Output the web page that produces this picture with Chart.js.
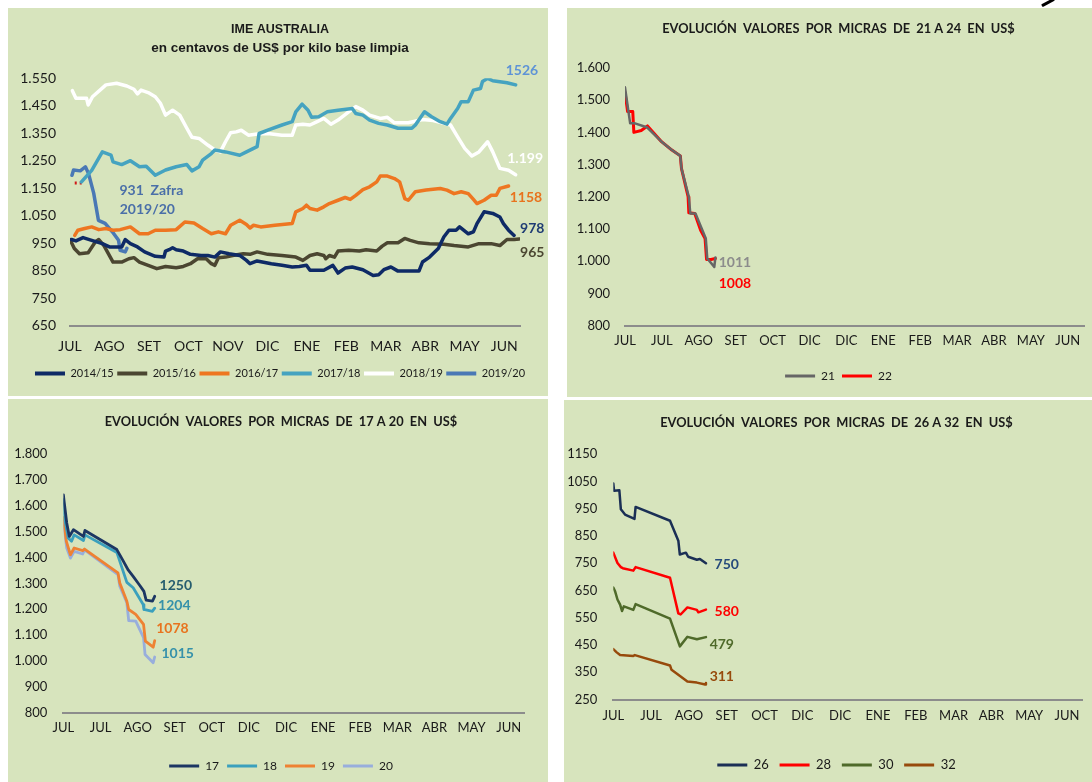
<!DOCTYPE html>
<html><head><meta charset="utf-8">
<script src="https://cdn.jsdelivr.net/npm/chart.js@4.4.1/dist/chart.umd.min.js"></script>
<style>
html,body{margin:0;padding:0;background:#fff;width:1092px;height:782px;overflow:hidden;}
.panel{position:absolute;background:#D7E4BD;overflow:hidden;}
.panel canvas{display:block;}
#mark{position:absolute;left:1041px;top:1px;width:14px;height:3px;background:#000;transform:rotate(-28deg);border-radius:1px;}
</style></head><body>
<div class="panel" style="left:8px;top:8px;width:540px;height:388px"><canvas id="c1" width="544" height="388"></canvas></div>
<div class="panel" style="left:567px;top:8px;width:525px;height:389px"><canvas id="c2" width="543" height="389"></canvas></div>
<div class="panel" style="left:8px;top:399px;width:540px;height:383px"><canvas id="c3" width="546" height="383"></canvas></div>
<div class="panel" style="left:564px;top:400px;width:528px;height:382px"><canvas id="c4" width="545" height="382"></canvas></div>
<div id="mark"></div>
<script>
// ---------- axis labels ----------
const monthsIME = ['JUL','AGO','SET','OCT','NOV','DIC','ENE','FEB','MAR','ABR','MAY','JUN'];
const monthsMicras = ['JUL','JUL','AGO','SET','OCT','DIC','DIC','ENE','FEB','MAR','ABR','MAY','JUN'];
const ticksIME = [650,750,850,950,1050,1150,1250,1350,1450,1550];
const ticks2124 = [800,900,1000,1100,1200,1300,1400,1500,1600];
const ticks1720 = [800,900,1000,1100,1200,1300,1400,1500,1600,1700,1800];
const ticks2632 = [250,350,450,550,650,750,850,950,1050,1150];

// ---------- IME Australia (x = months from July) ----------
const ime1415X = [0.04,0.15,0.33,0.55,0.82,1.00,1.31,1.40,1.53,1.71,1.89,2.16,2.38,2.42,2.51,2.60,2.69,2.87,3.05,3.32,3.49,3.67,3.81,4.03,4.30,4.47,4.56,4.74,5.10,5.37,5.63,5.81,5.99,6.08,6.43,6.66,6.79,6.97,7.15,7.42,7.68,7.82,7.95,8.13,8.31,8.84,8.93,9.11,9.33,9.47,9.60,9.78,9.87,10.09,10.22,10.31,10.49,10.71,10.89,10.98,11.11,11.25];
const ime1415Y = [963,958,970,960,948,936,936,963,948,936,918,902,899,921,926,933,926,921,909,905,905,899,918,911,905,887,875,885,875,869,863,865,869,851,851,869,841,859,863,853,832,835,853,863,848,848,881,899,930,972,997,997,1009,984,991,1021,1064,1058,1045,1021,997,978];
const ime1516X = [0.00,0.11,0.24,0.46,0.64,0.73,0.86,1.09,1.31,1.49,1.62,1.76,1.98,2.20,2.42,2.69,2.87,3.05,3.23,3.45,3.58,3.67,3.76,3.94,4.12,4.39,4.56,4.74,5.01,5.37,5.72,5.90,6.08,6.26,6.43,6.48,6.57,6.70,6.79,7.06,7.33,7.50,7.77,7.91,8.04,8.31,8.48,8.62,8.84,9.11,9.47,9.73,10.09,10.36,10.67,10.89,11.07,11.25,11.38];
const ime1516Y = [963,930,911,915,954,963,941,881,881,893,897,881,869,857,865,860,865,875,893,893,875,869,897,899,905,911,909,918,909,905,899,887,905,911,905,893,905,899,921,924,921,926,921,939,951,951,967,960,951,948,946,941,936,948,948,941,963,963,965];
const ime1617X = [0.12,0.20,0.37,0.55,0.73,0.91,1.09,1.27,1.53,1.76,1.98,2.16,2.42,2.69,2.91,3.14,3.36,3.58,3.76,3.94,4.07,4.30,4.47,4.56,4.65,4.83,5.19,5.63,5.72,5.90,5.99,6.08,6.26,6.43,6.57,6.79,6.97,7.10,7.24,7.42,7.59,7.77,7.86,8.04,8.22,8.35,8.48,8.57,8.75,9.02,9.38,9.55,9.73,9.91,10.09,10.22,10.31,10.49,10.67,10.80,10.89,11.11];
const ime1617Y = [978,997,1003,1009,999,1003,997,999,1009,984,984,997,997,999,1027,1023,1003,984,991,984,1015,1033,1018,1005,1015,1009,1015,1021,1064,1076,1088,1076,1070,1082,1094,1106,1116,1109,1124,1145,1155,1173,1194,1194,1185,1173,1112,1106,1137,1143,1149,1143,1130,1137,1130,1109,1094,1106,1124,1124,1149,1158];
const ime1718X = [0.29,0.55,0.82,1.04,1.09,1.31,1.53,1.76,1.93,2.16,2.42,2.69,2.96,3.09,3.27,3.36,3.58,3.67,3.94,4.30,4.47,4.65,4.74,4.79,5.01,5.37,5.63,5.72,5.88,6.03,6.12,6.30,6.52,6.79,7.15,7.24,7.42,7.59,7.82,8.04,8.31,8.66,8.75,8.98,9.16,9.38,9.55,9.64,9.73,9.82,9.91,10.09,10.22,10.40,10.45,10.58,10.71,11.07,11.29];
const ime1718Y = [1173,1215,1282,1270,1246,1236,1250,1228,1230,1197,1216,1228,1236,1213,1228,1252,1276,1289,1282,1270,1282,1295,1301,1349,1361,1380,1392,1428,1456,1434,1408,1410,1428,1434,1440,1422,1416,1398,1386,1380,1368,1368,1380,1428,1410,1392,1383,1404,1422,1440,1465,1465,1507,1513,1538,1550,1541,1534,1526];
const ime1819X = [0.06,0.15,0.42,0.46,0.57,0.91,1.18,1.44,1.62,1.71,1.80,1.98,2.16,2.29,2.42,2.60,2.78,2.96,3.09,3.27,3.49,3.67,3.81,3.94,4.07,4.21,4.34,4.52,4.74,5.01,5.37,5.63,5.72,5.90,6.08,6.26,6.43,6.61,6.79,7.06,7.24,7.42,7.59,7.86,8.04,8.22,8.57,8.93,9.20,9.47,9.64,9.82,10.00,10.18,10.36,10.58,10.71,10.89,11.11,11.29];
const ime1819Y = [1505,1477,1477,1453,1483,1526,1532,1522,1510,1493,1507,1498,1483,1459,1416,1434,1416,1368,1335,1331,1307,1289,1282,1319,1352,1355,1361,1343,1347,1349,1343,1343,1380,1383,1380,1392,1404,1383,1398,1428,1447,1434,1416,1404,1408,1388,1388,1400,1396,1386,1380,1337,1295,1267,1282,1319,1282,1222,1215,1199];
const ime1920X = [0.05,0.09,0.26,0.39,0.47,0.60,0.72,0.89,1.10,1.23,1.27,1.40,1.44];
const ime1920Y = [1197,1216,1213,1228,1203,1132,1033,1022,986,960,924,918,931];
const ime1920StartX = [0.12,0.32];
const ime1920StartY = [1169,1169];

// ---------- Micras 21-22 ----------
const m21X = [0,0.14,0.27,0.59,0.99,1.27,1.50,1.53,1.73,1.77,1.91,2.19,2.23,2.42,2.45];
const m21Y = [1540,1428,1428,1416,1371,1345,1327,1288,1200,1148,1148,1070,1008,982,1011];
const m22X = [0,0.07,0.21,0.24,0.44,0.61,0.99,1.27,1.50,1.53,1.71,1.73,1.89,2.05,2.17,2.21,2.33,2.45];
const m22Y = [1524,1465,1465,1400,1406,1420,1371,1345,1327,1288,1200,1150,1148,1096,1070,1005,1005,1008];

// ---------- Micras 17-20 ----------
const m17X = [0,0.02,0.09,0.16,0.27,0.54,0.58,1.44,1.57,1.75,1.88,2.06,2.17,2.23,2.40,2.46];
const m17Y = [1643,1617,1534,1482,1508,1482,1505,1431,1398,1351,1327,1292,1269,1235,1231,1250];
const m18X = [0,0.04,0.13,0.22,0.29,0.54,0.58,1.44,1.71,1.88,2.15,2.17,2.40,2.46];
const m18Y = [1624,1546,1476,1463,1488,1466,1488,1420,1304,1283,1218,1199,1192,1204];
const m19X = [0,0.08,0.19,0.29,0.52,0.57,1.47,1.52,1.71,1.76,1.95,2.16,2.21,2.42,2.46];
const m19Y = [1555,1463,1411,1437,1427,1433,1341,1302,1231,1199,1180,1141,1076,1053,1078];
const m20X = [0,0.09,0.19,0.29,0.52,0.57,1.47,1.52,1.71,1.76,1.95,2.16,2.20,2.42,2.46];
const m20Y = [1542,1437,1398,1424,1414,1430,1334,1289,1225,1156,1154,1090,1025,993,1015];

// ---------- Micras 26-32 ----------
const m26X = [0,0.02,0.16,0.20,0.31,0.56,0.59,1.50,1.72,1.76,1.92,1.98,2.21,2.29,2.45];
const m26Y = [1043,1016,1018,948,929,913,957,906,833,782,789,774,763,766,750];
const m28X = [0,0.11,0.20,0.25,0.53,0.59,1.50,1.72,1.78,1.96,2.21,2.25,2.45];
const m28Y = [789,751,736,732,723,736,697,566,562,588,579,570,580];
const m30X = [0,0.05,0.11,0.18,0.23,0.28,0.53,0.59,1.50,1.76,1.96,2.21,2.45];
const m30Y = [661,646,617,598,575,592,579,600,547,445,480,471,479];
const m32X = [0,0.09,0.18,0.53,0.57,1.50,1.54,1.96,2.21,2.43,2.45];
const m32Y = [435,423,413,410,413,375,359,316,312,305,311];

// ---------- helpers ----------
const FONT = 'Lato';
const INK = '#1a1a1a';
const dotted = v => v >= 1000 ? Math.floor(v / 1000) + '.' + String(v % 1000).padStart(3, '0') : String(v);
const plain = v => String(v);

function labelPlugin(items) {
  return {
    id: 'valueLabels',
    afterDatasetsDraw(chart) {
      const ctx = chart.ctx, xs = chart.scales.x, ys = chart.scales.y;
      ctx.save();
      ctx.textAlign = 'center';
      ctx.textBaseline = 'middle';
      items.forEach(it => {
        ctx.font = 'bold ' + (it.size || 14) + 'px ' + FONT;
        ctx.fillStyle = it.color;
        ctx.fillText(it.text, xs.getPixelForValue(it.x), ys.getPixelForValue(it.y));
      });
      ctx.restore();
    }
  };
}

function makeChart(id, c) {
  const datasets = c.series.map(s => ({
    label: s.label,
    data: s.xs.map((x, i) => ({x: x, y: s.ys[i]})),
    borderColor: s.color,
    backgroundColor: s.color,
    borderWidth: s.width,
    borderDash: s.dash || [],
    pointRadius: 0,
    pointHoverRadius: 0,
    tension: 0,
    fill: false,
    borderJoinStyle: 'round',
    borderCapStyle: s.dash ? 'butt' : 'round',
    hideInLegend: !!s.hide
  }));
  const tf = c.titleFont || FONT;
  const plugins = {
    tooltip: {enabled: false},
    title: {
      display: true,
      text: c.title,
      color: INK,
      font: {family: tf, size: c.titleSize, weight: 'bold', lineHeight: c.titleLH + 'px'},
      padding: {top: c.titlePadTop, bottom: c.titlePadBottom}
    },
    legend: {
      display: true,
      position: 'bottom',
      labels: {
        color: INK,
        font: {family: FONT, size: c.legendSize},
        boxWidth: 30,
        boxHeight: c.legendBoxH,
        padding: c.legendPad,
        filter: (item, data) => !data.datasets[item.datasetIndex].hideInLegend,
        generateLabels: chart => chart.data.datasets.map((d, i) => ({
          text: d.label, fillStyle: d.borderColor, strokeStyle: d.borderColor,
          lineWidth: 0, hidden: false, datasetIndex: i, fontColor: INK
        }))
      }
    }
  };
  if (c.subtitle) {
    plugins.subtitle = {
      display: true,
      text: c.subtitle,
      color: INK,
      font: {family: tf, size: c.subSize, weight: 'bold', lineHeight: c.subLH + 'px'},
      padding: {top: c.subPadTop, bottom: c.subPadBottom}
    };
  }
  return new Chart(document.getElementById(id), {
    type: 'line',
    data: {datasets: datasets},
    options: {
      responsive: false,
      animation: false,
      devicePixelRatio: 1,
      events: [],
      layout: {padding: c.pad},
      plugins: plugins,
      scales: {
        x: {
          type: 'linear',
          min: 0,
          max: c.xMax,
          afterBuildTicks: s => { s.ticks = c.xLabels.map((_, i) => ({value: i})); },
          afterFit: s => { s.height = c.xH; },
          ticks: {
            autoSkip: false, maxRotation: 0, minRotation: 0,
            padding: c.xPad, color: INK,
            font: {family: FONT, size: c.tickSize},
            callback: v => (c.xLabels[v] !== undefined ? c.xLabels[v] : '')
          },
          grid: {display: false, drawTicks: false},
          border: {display: true, color: '#8c8c8c', width: 2}
        },
        y: {
          type: 'linear',
          min: c.yTicks[0],
          max: c.yTicks[c.yTicks.length - 1],
          afterBuildTicks: s => { s.ticks = c.yTicks.map(v => ({value: v})); },
          afterFit: s => { s.width = c.yW; },
          ticks: {padding: c.yPad, color: INK, font: {family: FONT, size: c.tickSize}, callback: v => c.fmt(v)},
          grid: {display: false, drawTicks: false},
          border: {display: false}
        },
        yR: {
          type: 'linear',
          position: 'right',
          display: true,
          afterFit: s => { s.width = c.rW; },
          ticks: {display: false},
          grid: {display: false, drawTicks: false},
          border: {display: false}
        }
      }
    },
    plugins: [labelPlugin(c.labels)]
  });
}

function drawAll() {
  makeChart('c1', {
    title: 'IME AUSTRALIA',
    subtitle: 'en centavos de US$ por kilo base limpia',
    titleFont: 'Liberation Sans', titleSize: 12.5, titleLH: 15, titlePadTop: 13.8, titlePadBottom: 0,
    subSize: 13.5, subLH: 15, subPadTop: 4, subPadBottom: 22.5,
    pad: {left: 0, right: 0, top: 0, bottom: 7},
    yW: 62, rW: 32, xH: 39, xPad: 12.5, yPad: 14, tickSize: 14,
    legendSize: 11, legendBoxH: 4, legendPad: 3.5,
    xLabels: monthsIME, xMax: 11.4, yTicks: ticksIME, fmt: dotted,
    series: [
      {label: '2014/15', xs: ime1415X, ys: ime1415Y, color: '#0E2A66', width: 3.5},
      {label: '2015/16', xs: ime1516X, ys: ime1516Y, color: '#4B4631', width: 3.5},
      {label: '2016/17', xs: ime1617X, ys: ime1617Y, color: '#EE7621', width: 3.5},
      {label: '2017/18', xs: ime1718X, ys: ime1718Y, color: '#45A3C0', width: 3.5},
      {label: '2018/19', xs: ime1819X, ys: ime1819Y, color: '#FFFFFF', width: 3.5},
      {label: '2019/20', xs: ime1920X, ys: ime1920Y, color: '#4A78B5', width: 3.5},
      {label: 'inicio', xs: ime1920StartX, ys: ime1920StartY, color: '#D01818', width: 3, dash: [2, 3], hide: true}
    ],
    labels: [
      {text: '1526', x: 11.45, y: 1577, color: '#5E93D6'},
      {text: '1.199', x: 11.53, y: 1259, color: '#FFFFFF'},
      {text: '1158', x: 11.55, y: 1117, color: '#E8731E'},
      {text: '978', x: 11.71, y: 1004, color: '#1F3C74'},
      {text: '965', x: 11.71, y: 916, color: '#4B4631'},
      {text: '931  Zafra', x: 2.06, y: 1142, color: '#4A6FA8'},
      {text: '2019/20', x: 1.96, y: 1073, color: '#4A6FA8'}
    ]
  });

  makeChart('c2', {
    title: 'EVOLUCIÓN  VALORES  POR  MICRAS  DE  21 A 24  EN  US$',
    titleSize: 12.8, titleLH: 15.6, titlePadTop: 13.2, titlePadBottom: 31.2,
    pad: {left: 0, right: 0, top: 0, bottom: 5},
    yW: 58, rW: 26, xH: 37.5, xPad: 7.7, yPad: 15, tickSize: 13,
    legendSize: 12, legendBoxH: 3, legendPad: 7,
    xLabels: monthsMicras, xMax: 12.44, yTicks: ticks2124, fmt: dotted,
    series: [
      {label: '21', xs: m21X, ys: m21Y, color: '#666666', width: 2.5},
      {label: '22', xs: m22X, ys: m22Y, color: '#FF0000', width: 3}
    ],
    labels: [
      {text: '1011', x: 2.98, y: 997, color: '#8C8C8C'},
      {text: '1008', x: 2.98, y: 932, color: '#FF0000'}
    ]
  });

  makeChart('c3', {
    title: 'EVOLUCIÓN  VALORES  POR  MICRAS  DE  17 A 20  EN  US$',
    titleSize: 12.8, titleLH: 15.6, titlePadTop: 15.2, titlePadBottom: 24.5,
    pad: {left: 0, right: 0, top: 0, bottom: 0},
    yW: 55.4, rW: 29.4, xH: 39.5, xPad: 7.4, yPad: 16, tickSize: 13,
    legendSize: 12, legendBoxH: 3, legendPad: 8,
    xLabels: monthsMicras, xMax: 12.43, yTicks: ticks1720, fmt: dotted,
    series: [
      {label: '17', xs: m17X, ys: m17Y, color: '#1C3663', width: 2.8},
      {label: '18', xs: m18X, ys: m18Y, color: '#3BA0BD', width: 2.8},
      {label: '19', xs: m19X, ys: m19Y, color: '#EE8233', width: 2.8},
      {label: '20', xs: m20X, ys: m20Y, color: '#98AEDC', width: 2.8}
    ],
    labels: [
      {text: '1250', x: 3.03, y: 1291, color: '#265D6E'},
      {text: '1204', x: 2.99, y: 1214, color: '#3591AA'},
      {text: '1078', x: 2.94, y: 1124, color: '#E8731E'},
      {text: '1015', x: 3.08, y: 1028, color: '#3591AA'}
    ]
  });

  makeChart('c4', {
    title: 'EVOLUCIÓN  VALORES  POR  MICRAS  DE  26 A 32  EN  US$',
    titleSize: 12.8, titleLH: 15.6, titlePadTop: 15.5, titlePadBottom: 23.2,
    pad: {left: 0, right: 0, top: 0, bottom: 0.5},
    yW: 49.3, rW: 26.5, xH: 48.3, xPad: 8.4, yPad: 16, tickSize: 13,
    legendSize: 13, legendBoxH: 3, legendPad: 10.7,
    xLabels: monthsMicras, xMax: 12.41, yTicks: ticks2632, fmt: plain,
    series: [
      {label: '26', xs: m26X, ys: m26Y, color: '#1B2F55', width: 2.5},
      {label: '28', xs: m28X, ys: m28Y, color: '#FF0000', width: 2.5},
      {label: '30', xs: m30X, ys: m30Y, color: '#4F6A2A', width: 2.5},
      {label: '32', xs: m32X, ys: m32Y, color: '#974A0C', width: 2.5}
    ],
    labels: [
      {text: '750', x: 3.0, y: 744, color: '#254A7B'},
      {text: '580', x: 3.0, y: 574, color: '#FF0000'},
      {text: '479', x: 2.87, y: 451, color: '#4F6A2A'},
      {text: '311', x: 2.87, y: 333, color: '#974A0C'}
    ]
  });
}

Promise.all([
  document.fonts.load('13px Lato'),
  document.fonts.load('bold 13px Lato'),
  document.fonts.load('bold 12px "Liberation Sans"')
]).then(drawAll, drawAll);
</script>
</body></html>
